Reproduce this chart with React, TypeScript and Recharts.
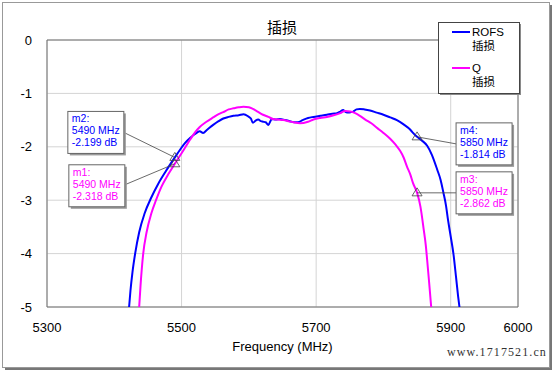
import React from "react";
import {
  LineChart,
  Line,
  XAxis,
  YAxis,
  CartesianGrid,
  ReferenceArea,
  ReferenceDot,
} from "recharts";

// ROFS insertion loss (blue)
const freqRofs = [
  5422, 5424, 5427, 5431, 5437, 5445, 5455, 5465, 5477, 5490, 5498, 5505, 5513,
  5520, 5527, 5532, 5538, 5547, 5555, 5562, 5570, 5577, 5585, 5592, 5599, 5603,
  5606, 5610, 5614, 5618, 5621, 5625, 5629, 5634, 5640, 5646, 5654, 5661, 5668,
  5673, 5680, 5688, 5696, 5706, 5716, 5724, 5731, 5736, 5740, 5744, 5748, 5752,
  5755, 5760, 5765, 5772, 5780, 5790, 5800, 5810, 5820, 5830, 5840, 5844, 5850,
  5857, 5865, 5872, 5880, 5885, 5889, 5893, 5896, 5900, 5904, 5908, 5911, 5913,
];
const lossRofs = [
  -5, -4.7, -4.35, -4.0, -3.6, -3.25, -2.95, -2.7, -2.45, -2.199, -2.05, -1.93,
  -1.83, -1.76, -1.71, -1.74, -1.68, -1.59, -1.52, -1.47, -1.44, -1.42, -1.41,
  -1.39, -1.43, -1.47, -1.55, -1.51, -1.49, -1.52, -1.53, -1.54, -1.59, -1.48,
  -1.49, -1.48, -1.5, -1.52, -1.54, -1.54, -1.5, -1.46, -1.44, -1.42, -1.4,
  -1.38, -1.37, -1.34, -1.31, -1.35, -1.36, -1.35, -1.34, -1.3, -1.29, -1.3,
  -1.32, -1.36, -1.4, -1.45, -1.5, -1.58, -1.68, -1.74, -1.814, -1.88, -1.98,
  -2.15, -2.43, -2.62, -2.85, -3.1, -3.37, -3.68, -4.0, -4.45, -4.8, -5,
];

// Q insertion loss (magenta)
const freqQ = [
  5437, 5439, 5443, 5448, 5455, 5462, 5470, 5480, 5490, 5500, 5506, 5513, 5520,
  5527, 5537, 5547, 5555, 5562, 5570, 5577, 5585, 5592, 5600, 5606, 5613, 5621,
  5629, 5636, 5643, 5651, 5659, 5666, 5676, 5688, 5696, 5706, 5716, 5726, 5736,
  5743, 5751, 5758, 5765, 5773, 5782, 5791, 5800, 5810, 5818, 5825, 5830, 5835,
  5840, 5844, 5850, 5855, 5860, 5863, 5865, 5868, 5871,
];
const lossQ = [
  -5, -4.6, -4.0, -3.6, -3.25, -3.0, -2.75, -2.52, -2.318, -2.12, -2.0, -1.86,
  -1.73, -1.63, -1.53, -1.45, -1.39, -1.35, -1.3, -1.28, -1.26, -1.25, -1.26,
  -1.29, -1.34, -1.4, -1.44, -1.48, -1.49, -1.5, -1.52, -1.54, -1.56, -1.53,
  -1.49, -1.46, -1.44, -1.41, -1.37, -1.33, -1.34, -1.37, -1.42, -1.49, -1.56,
  -1.65, -1.74, -1.85, -1.96, -2.08, -2.2, -2.37, -2.52, -2.68, -2.862, -3.12,
  -3.56, -3.85, -4.12, -4.55, -5,
];

const xTicks = [5300, 5500, 5700, 5900, 6000];
const yTicks = [0, -1, -2, -3, -4, -5];

// markers
const markerNames = ["m1", "m2", "m3", "m4"];
const markerSeries = ["Q", "ROFS", "Q", "ROFS"];
const markerFreq = [5490, 5490, 5850, 5850];
const markerLoss = [-2.318, -2.199, -2.862, -1.814];

const COLORS: Record<string, string> = { ROFS: "#0000ff", Q: "#ff00ff" };
const FONT = "'Liberation Sans', Arial, sans-serif";
const CJK = "'Noto Sans CJK SC', 'Liberation Sans', sans-serif";

// where each callout box sits relative to its marker (dx, dy of box top-left)
const boxOffset: Record<string, [number, number]> = {
  m1: [-106, 1],
  m2: [-107, -46],
  m3: [39, -21],
  m4: [39, -14],
};

const rofsData = freqRofs.map((f, i) => ({ f, v: lossRofs[i] }));
const qData = freqQ.map((f, i) => ({ f, v: lossQ[i] }));

const markerShape = (idx: number) => (props: any) => {
  const { cx, cy } = props;
  const name = markerNames[idx];
  const color = COLORS[markerSeries[idx]];
  const [dx, dy] = boxOffset[name];
  const bw = 56;
  const bh = 42;
  const bx = cx + dx;
  const by = cy + dy;
  const left = dx < 0;
  const lx = left ? bx + bw : bx;
  const ly = by + bh / 2 + (name === "m1" ? -1 : 0);
  return (
    <g>
      <line x1={lx} y1={ly} x2={cx} y2={cy} stroke="#444" strokeWidth={0.8} />
      <polygon
        points={`${cx},${cy - 5} ${cx - 5},${cy + 3} ${cx + 5},${cy + 3}`}
        fill="none"
        stroke="#444"
        strokeWidth={0.8}
      />
      <rect x={bx + 2} y={by + 2} width={bw} height={bh} fill="#9a9a9a" />
      <rect x={bx} y={by} width={bw} height={bh} fill="#fff" stroke="#666" strokeWidth={1} />
      <g fontFamily={FONT} fontSize={10.5} fill={color}>
        <text x={bx + 4} y={by + 11}>{name}:</text>
        <text x={bx + 4} y={by + 23}>{markerFreq[idx]} MHz</text>
        <text x={bx + 4} y={by + 35}>{markerLoss[idx].toFixed(3)} dB</text>
      </g>
    </g>
  );
};

const LegendBox = () => (
  <g transform="translate(438,22)">
    <rect x={2} y={2} width={81} height={71} fill="#8a8a8a" />
    <rect x={0.5} y={0.5} width={81} height={71} fill="#fff" stroke="#444" />
    <line x1={14} y1={10} x2={32} y2={10} stroke={COLORS.ROFS} strokeWidth={2} />
    <text x={34} y={14} fontFamily={FONT} fontSize={11.5} fill="#000">ROFS</text>
    <text x={34} y={28} fontFamily={CJK} fontSize={11.5} fill="#000">插损</text>
    <line x1={14} y1={46} x2={32} y2={46} stroke={COLORS.Q} strokeWidth={2} />
    <text x={34} y={50} fontFamily={FONT} fontSize={11.5} fill="#000">Q</text>
    <text x={34} y={64} fontFamily={CJK} fontSize={11.5} fill="#000">插损</text>
  </g>
);

export default function App() {
  return (
    <div style={{ position: "absolute", left: 0, top: 0, width: 557, height: 373, background: "#fff" }}>
      <svg width={557} height={373} style={{ position: "absolute", left: 0, top: 0 }}>
        <rect x={5} y={5} width={547} height={365} fill="#777" />
        <rect x={2.5} y={2.5} width={547} height={365} fill="#fff" stroke="#999" />
        <text x={282} y={33} textAnchor="middle" fontFamily={CJK} fontSize={15} fill="#000">
          插损
        </text>
        <text
          x={447}
          y={356}
          fontFamily="'Liberation Serif', serif"
          fontSize={12}
          letterSpacing={1.1}
          fill="#333"
        >
          www.1717521.cn
        </text>
      </svg>
      <div style={{ position: "absolute", left: 0, top: 0 }}>
        <LineChart
          width={557}
          height={373}
          margin={{ top: 40, right: 39, bottom: 6, left: 7 }}
          style={{ fontFamily: FONT }}
        >
          <CartesianGrid stroke="#d4d4d4" />
          <XAxis
            type="number"
            dataKey="f"
            domain={[5300, 6000]}
            ticks={xTicks}
            allowDataOverflow
            axisLine={false}
            tickLine={false}
            tickSize={0}
            tickMargin={16}
            height={60}
            tick={{ fill: "#000", fontSize: 13 }}
            label={{ value: "Frequency (MHz)", position: "insideBottom", offset: 16, fill: "#000", fontSize: 13 }}
          />
          <YAxis
            type="number"
            domain={[-5, 0]}
            ticks={yTicks}
            allowDataOverflow
            axisLine={false}
            tickLine={false}
            tickSize={0}
            tickMargin={15}
            width={40}
            tick={{ fill: "#000", fontSize: 13 }}
          />
          <ReferenceArea x1={5300} x2={6000} y1={-5} y2={0} fill="none" stroke="#707070" strokeWidth={1} />
          <Line
            data={rofsData}
            dataKey="v"
            name="ROFS"
            type="monotone"
            stroke={COLORS.ROFS}
            strokeWidth={2}
            dot={false}
            isAnimationActive={false}
          />
          <Line
            data={qData}
            dataKey="v"
            name="Q"
            type="monotone"
            stroke={COLORS.Q}
            strokeWidth={2}
            dot={false}
            isAnimationActive={false}
          />
          {markerNames.map((n, i) => (
            <ReferenceDot key={n} x={markerFreq[i]} y={markerLoss[i]} shape={markerShape(i)} />
          ))}
        </LineChart>
      </div>
      <svg width={557} height={373} style={{ position: "absolute", left: 0, top: 0, pointerEvents: "none" }}>
        <LegendBox />
      </svg>
    </div>
  );
}
